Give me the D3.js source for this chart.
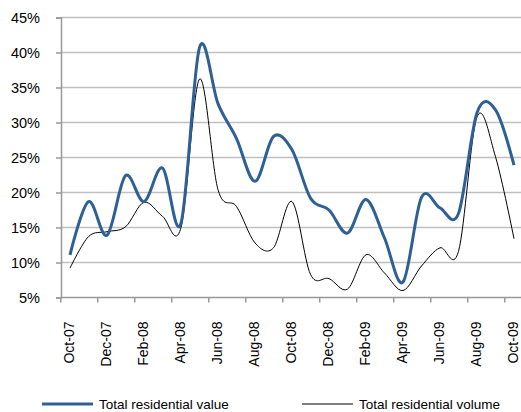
<!DOCTYPE html>
<html>
<head>
<meta charset="utf-8">
<script src="https://cdn.jsdelivr.net/npm/d3@7"></script>
<style>
  body { margin: 0; background: #fff; }
  svg text { font-family: "Liberation Sans", Arial, sans-serif; fill: #000; }
</style>
</head>
<body>
<div id="chart"></div>
<script>
const months = ["Oct-07","Nov-07","Dec-07","Jan-08","Feb-08","Mar-08","Apr-08","May-08","Jun-08","Jul-08","Aug-08","Sep-08",
  "Oct-08","Nov-08","Dec-08","Jan-09","Feb-09","Mar-09","Apr-09","May-09","Jun-09","Jul-09","Aug-09","Sep-09","Oct-09"];
const residentialValue = [11.1, 18.7, 13.9, 22.4, 18.7, 23.5, 15.6, 40.7, 32.7, 27.7, 21.6, 28.0,
  26.1, 19.2, 17.5, 14.2, 19.0, 13.5, 7.2, 19.3, 17.8, 17.0, 31.4, 31.8, 23.9];
const residentialVolume = [9.2, 13.7, 14.4, 15.1, 18.6, 16.6, 15.0, 36.2, 20.4, 18.0, 12.8, 12.1,
  18.7, 8.3, 7.7, 6.2, 11.1, 8.5, 6.0, 9.5, 12.1, 11.6, 30.8, 25.1, 13.4];
const yTicks = [5, 10, 15, 20, 25, 30, 35, 40, 45];
const seriesNames = ["Total residential value", "Total residential volume"];

const width = 521, height = 412;

const svg = d3.select("#chart").append("svg")
  .attr("width", width)
  .attr("height", height);

const x = d3.scalePoint().domain(months).range([70, 514]);
const y = d3.scaleLinear().domain([5, 45]).range([297.5, 17.5]);
const half = x.step() / 2;

// gridlines
svg.append("g")
  .selectAll("line")
  .data(yTicks.slice(1))
  .enter().append("line")
  .attr("x1", 61).attr("x2", width)
  .attr("y1", d => y(d)).attr("y2", d => y(d))
  .attr("stroke", "#c0c0c0")
  .attr("stroke-width", 1.5);

// y axis
const yAxis = svg.append("g")
  .attr("transform", "translate(61,0)")
  .call(d3.axisLeft(y).tickValues(yTicks).tickFormat(d => d + "%").tickSize(5).tickPadding(16));
yAxis.select(".domain").attr("stroke", "#999").attr("stroke-width", 1.5);
yAxis.selectAll(".tick line").attr("stroke", "#999").attr("stroke-width", 1.5);
yAxis.selectAll("text").style("font-size", "14.5px");

// x axis line + tick marks between months
svg.append("line")
  .attr("x1", 61).attr("x2", width)
  .attr("y1", y(5)).attr("y2", y(5))
  .attr("stroke", "#999").attr("stroke-width", 1.5);

const labelMonths = months.filter((m, i) => i % 2 === 0);

svg.append("g")
  .selectAll("line")
  .data(labelMonths)
  .enter().append("line")
  .attr("x1", d => x(d) - half).attr("x2", d => x(d) - half)
  .attr("y1", y(5)).attr("y2", y(5) + 5)
  .attr("stroke", "#999").attr("stroke-width", 1.5);

const xAxis = svg.append("g")
  .attr("transform", `translate(0,${y(5)})`)
  .call(d3.axisBottom(x).tickValues(labelMonths).tickSize(0).tickPadding(0));
xAxis.select(".domain").remove();
xAxis.selectAll("text")
  .style("font-size", "14px")
  .attr("text-anchor", "end")
  .attr("dy", "0.35em")
  .attr("transform", "translate(-1,24) rotate(-90)");

// lines
const line = d3.line()
  .x((d, i) => x(months[i]))
  .y(d => y(d))
  .curve(d3.curveCardinal.tension(0));

svg.append("path")
  .datum(residentialVolume)
  .attr("d", line)
  .attr("fill", "none")
  .attr("stroke", "#000")
  .attr("stroke-width", 1);

svg.append("path")
  .datum(residentialValue)
  .attr("d", line)
  .attr("fill", "none")
  .attr("stroke", "#2e6096")
  .attr("stroke-width", 3);

// legend
const legend = [
  { name: seriesNames[0], color: "#2e6096", w: 3, x: 42 },
  { name: seriesNames[1], color: "#000", w: 1, x: 302 }
];
const lg = svg.append("g").selectAll("g")
  .data(legend)
  .enter().append("g")
  .attr("transform", d => `translate(${d.x},404)`);
lg.append("line")
  .attr("x1", 0).attr("x2", 51)
  .attr("stroke", d => d.color)
  .attr("stroke-width", d => d.w);
lg.append("text")
  .attr("x", 57)
  .attr("dy", "0.35em")
  .style("font-size", "13.5px")
  .text(d => d.name);
</script>
</body>
</html>
